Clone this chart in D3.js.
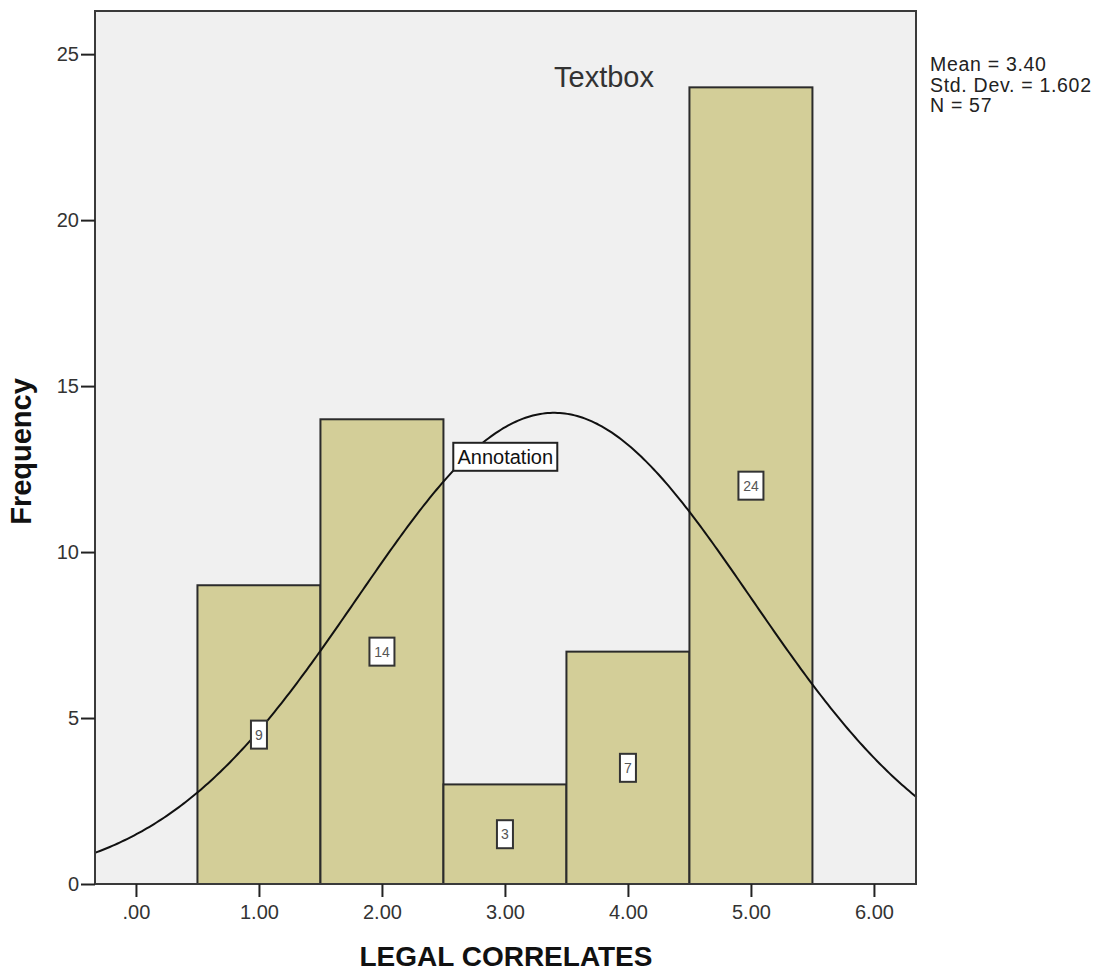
<!DOCTYPE html>
<html>
<head>
<meta charset="utf-8">
<script src="https://cdn.jsdelivr.net/npm/d3@7"></script>
<style>
  body { margin: 0; background: #fff; }
  text { font-family: Arial, "Liberation Sans", sans-serif; }
</style>
</head>
<body>
<div id="chart"></div>
<script>
// histogram data
const binStarts = [0.5, 1.5, 2.5, 3.5, 4.5]
const binEnds = [1.5, 2.5, 3.5, 4.5, 5.5]
const counts = [9, 14, 3, 7, 24]
const xTicks = [0, 1, 2, 3, 4, 5, 6]
const xTickLabels = ['.00', '1.00', '2.00', '3.00', '4.00', '5.00', '6.00']
const yTicks = [0, 5, 10, 15, 20, 25]
const statNames = ['Mean', 'Std. Dev.', 'N']
const statValues = [3.40, 1.602, 57]
const statLabels = ['3.40', '1.602', '57']

const width = 1097, height = 974
const margin = {top: 11, right: 181, bottom: 90, left: 95}
const innerW = width - margin.left - margin.right
const innerH = height - margin.top - margin.bottom

const svg = d3.select('#chart').append('svg')
    .attr('width', width)
    .attr('height', height)

const g = svg.append('g')
    .attr('transform', `translate(${margin.left},${margin.top})`)

const x = d3.scaleLinear().domain([-0.333, 6.342]).range([0, innerW])
const y = d3.scaleLinear().domain([0, 26.3]).range([innerH, 0])

// plot background
g.append('rect')
    .attr('width', innerW)
    .attr('height', innerH)
    .attr('fill', '#f0f0f0')

// bars
const bins = counts.map((c, i) => ({x0: binStarts[i], x1: binEnds[i], count: c}))

g.selectAll('rect.bar').data(bins).enter().append('rect')
    .attr('class', 'bar')
    .attr('x', d => x(d.x0))
    .attr('y', d => y(d.count))
    .attr('width', d => x(d.x1) - x(d.x0))
    .attr('height', d => y(0) - y(d.count))
    .attr('fill', '#d3ce98')
    .attr('stroke', '#2b2b2b')
    .attr('stroke-width', 2)

// normal curve from mean / sd / N (bin width 1)
const mean = statValues[0], sd = statValues[1], n = statValues[2]
const curveXs = d3.range(x.domain()[0], x.domain()[1] + 0.01, 0.02)
const line = d3.line()
    .x(d => x(d))
    .y(d => y(n * Math.exp(-0.5 * ((d - mean) / sd) ** 2) / (sd * Math.sqrt(2 * Math.PI))))

g.append('path')
    .datum(curveXs)
    .attr('d', line)
    .attr('fill', 'none')
    .attr('stroke', '#111')
    .attr('stroke-width', 2)

// value labels in boxes
const lab = g.selectAll('g.vlab').data(bins).enter().append('g')
    .attr('class', 'vlab')
    .attr('transform', d => `translate(${x((d.x0 + d.x1) / 2)},${y(d.count / 2)})`)

lab.append('rect')
    .attr('x', d => String(d.count).length > 1 ? -12.5 : -8)
    .attr('y', -14)
    .attr('width', d => String(d.count).length > 1 ? 25 : 16)
    .attr('height', 28)
    .attr('fill', '#fff')
    .attr('stroke', '#333')
    .attr('stroke-width', 2)

lab.append('text')
    .attr('text-anchor', 'middle')
    .attr('dy', '0.36em')
    .attr('font-size', 14)
    .attr('fill', '#555')
    .text(d => d.count)

// plot border
g.append('rect')
    .attr('width', innerW)
    .attr('height', innerH)
    .attr('fill', 'none')
    .attr('stroke', '#3a3a3a')
    .attr('stroke-width', 2)

// axes
const yAxis = g.append('g')
    .call(d3.axisLeft(y).tickValues(yTicks).tickSize(14).tickPadding(2))
const xAxis = g.append('g')
    .attr('transform', `translate(0,${innerH})`)
    .call(d3.axisBottom(x).tickValues(xTicks).tickFormat((d, i) => xTickLabels[i]).tickSize(13).tickPadding(8))

;[xAxis, yAxis].forEach(ax => {
    ax.select('.domain').remove()
    ax.selectAll('line').attr('stroke', '#222').attr('stroke-width', 2)
    ax.selectAll('text').attr('font-size', 20).attr('fill', '#333')
        .attr('font-family', 'Arial, "Liberation Sans", sans-serif')
})

// axis titles
svg.append('text')
    .attr('transform', `translate(31,${margin.top + innerH / 2 + 4}) rotate(-90)`)
    .attr('text-anchor', 'middle')
    .attr('font-size', 29)
    .attr('font-weight', 'bold')
    .attr('fill', '#111')
    .text('Frequency')

svg.append('text')
    .attr('x', 506)
    .attr('y', 966)
    .attr('text-anchor', 'middle')
    .attr('font-size', 28)
    .attr('font-weight', 'bold')
    .attr('fill', '#111')
    .text('LEGAL CORRELATES')

// textbox
g.append('text')
    .attr('x', 604 - margin.left)
    .attr('y', 87 - margin.top)
    .attr('text-anchor', 'middle')
    .attr('font-size', 29)
    .attr('fill', '#333')
    .text('Textbox')

// annotation
const ann = g.append('g')
    .attr('transform', `translate(${x(2.58)},${y(12.87)})`)
ann.append('rect')
    .attr('x', 0).attr('y', -14)
    .attr('width', 104).attr('height', 28)
    .attr('fill', '#fff')
    .attr('stroke', '#222')
    .attr('stroke-width', 2)
ann.append('text')
    .attr('x', 52).attr('dy', '0.36em')
    .attr('text-anchor', 'middle')
    .attr('font-size', 20)
    .attr('fill', '#111')
    .text('Annotation')

// stats box
svg.append('g').selectAll('text').data(statNames).enter().append('text')
    .attr('x', 930)
    .attr('y', (d, i) => 71 + i * 20.5)
    .attr('font-size', 19.5)
    .attr('letter-spacing', 0.7)
    .attr('fill', '#222')
    .text((d, i) => `${d} = ${statLabels[i]}`)
</script>
</body>
</html>
